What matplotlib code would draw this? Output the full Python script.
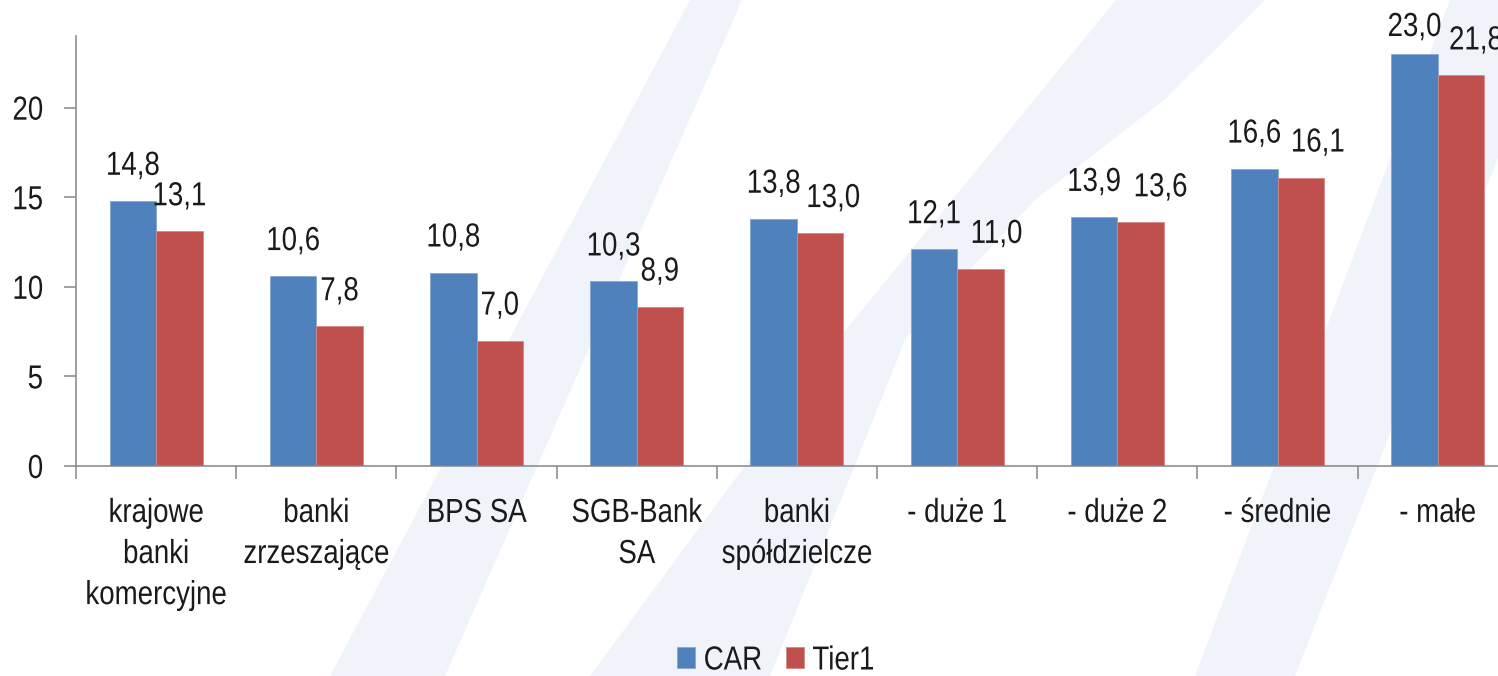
import matplotlib
matplotlib.use("Agg")
import matplotlib.pyplot as plt
from matplotlib import font_manager
from matplotlib.patches import Polygon
from matplotlib.patheffects import AbstractPathEffect
from matplotlib.transforms import Affine2D
import numpy as np

categories = ["krajowe\nbanki\nkomercyjne", "banki\nzrzeszające", "BPS SA", "SGB-Bank\nSA",
              "banki\nspółdzielcze", "- duże 1", "- duże 2", "- średnie", "- małe"]
car = [14.8, 10.6, 10.8, 10.3, 13.8, 12.1, 13.9, 16.6, 23.0]
tier1 = [13.1, 7.8, 7.0, 8.9, 13.0, 11.0, 13.6, 16.1, 21.8]
series_names = ["CAR", "Tier1"]
yticks = [0, 5, 10, 15, 20]

# horizontal nudges (pixels) of the Tier1 value labels, as placed in the original
tier1_label_nudge = [0, 0, 0, 0, 13, 16, 20, 17, 15]

names = {f.name for f in font_manager.fontManager.ttflist}
chain = ["Liberation Sans", "Arimo", "DejaVu Sans"]
fam = [n for n in chain if n in names] or ["DejaVu Sans"]
plt.rcParams['font.family'] = fam

BLUE = "#4F81BD"
RED = "#C0504D"
WM = "#F0F3F9"
TXT = "#1a1a1a"
FS = 24
SX = 0.83


class Narrow(AbstractPathEffect):
    """Condense glyphs horizontally (the reference uses a narrow face)."""
    def __init__(self, sx=SX, anchor="center"):
        super().__init__()
        self.sx = sx
        self.anchor = anchor

    def draw_path(self, renderer, gc, tpath, affine, rgbFace=None):
        ext = tpath.get_extents()
        if self.anchor == "right":
            cx = ext.x1
        elif self.anchor == "left":
            cx = ext.x0
        else:
            cx = (ext.x0 + ext.x1) / 2
        t = Affine2D().translate(-cx, 0).scale(self.sx, 1).translate(cx, 0) + affine
        renderer.draw_path(gc, tpath, t, rgbFace)


W, H = 1498, 676
fig = plt.figure(figsize=(W / 100, H / 100), dpi=100)

def px(pts):
    return [(x / W, 1 - y / H) for x, y in pts]

# faint watermark strokes in the background
for pts in [
    [(330, 676), (445, 676), (742, 0), (690, 0)],
    [(590, 676), (770, 676), (906, 338), (1035, 200), (1164, 100), (1265, 0), (1116, 0), (839, 338)],
    [(1195, 676), (1295, 676), (1560, 0), (1450, 0)],
]:
    fig.patches.append(Polygon(px(pts), closed=True, transform=fig.transFigure,
                               facecolor=WM, edgecolor="none", zorder=-5))

left, right, top, bottom = 76, 76 + 9 * 160.2, 36, 466
ax = fig.add_axes([left / W, 1 - bottom / H, (right - left) / W, (bottom - top) / H])
ax.set_zorder(2)
ax.patch.set_alpha(0)

n = len(categories)
x = np.arange(n) + 0.5
w = 0.29
ax.set_xlim(0, n)
ax.set_ylim(0, 24)
b1 = ax.bar(x - w / 2, car, w, color=BLUE, edgecolor="#86A8D4", linewidth=0.6,
            label=series_names[0], zorder=2)
b2 = ax.bar(x + w / 2, tier1, w, color=RED, edgecolor="#D48A88", linewidth=0.6,
            label=series_names[1], zorder=2)

# value labels: ~19 px above the bar, but kept inside the chart top
for bars, vals, nudges in [(b1, car, [0] * n), (b2, tier1, tier1_label_nudge)]:
    for rect, v, dx in zip(bars, vals, nudges):
        cx = rect.get_x() + rect.get_width() / 2
        bar_top_from_top = H - ax.transData.transform((cx, v))[1]
        off_px = min(19.0, bar_top_from_top - 12 - 31)
        ax.annotate(f"{v:.1f}".replace(".", ","), (cx, v),
                    xytext=(dx * 0.72, off_px * 0.72), textcoords="offset points",
                    ha="center", va="bottom", fontsize=FS, color=TXT,
                    annotation_clip=False, path_effects=[Narrow()])

ax.set_yticks(yticks)
ax.set_yticklabels([str(t) for t in yticks])
ax.set_xticks(np.arange(n + 1))
ax.set_xticklabels([])
ax.set_xticks(x, minor=True)
ax.set_xticklabels(categories, minor=True, fontsize=FS, linespacing=1.42)
ax.tick_params(axis="x", which="major", direction="out", length=9, width=1.1, color="#868686")
ax.tick_params(axis="x", which="minor", length=0, pad=23, labelcolor=TXT)
ax.tick_params(axis="y", direction="out", length=8.5, width=1.1, color="#868686",
               pad=15, labelsize=FS, labelcolor=TXT)
for lab in ax.get_xticklabels(minor=True):
    lab.set_path_effects([Narrow()])
for lab in ax.get_yticklabels():
    lab.set_path_effects([Narrow(anchor="right")])
for s in ["top", "right"]:
    ax.spines[s].set_visible(False)
for s in ["left", "bottom"]:
    ax.spines[s].set_color("#868686")
    ax.spines[s].set_linewidth(1.1)

leg = fig.legend(loc="center", bbox_to_anchor=(782 / W, 1 - 661 / H), ncol=2, frameon=False,
                 fontsize=FS, handlelength=0.54, handleheight=0.6, handletextpad=0.25,
                 columnspacing=0.36, labelcolor=TXT)
for t in leg.get_texts():
    t.set_path_effects([Narrow(anchor="left")])

fig.savefig("out.png", dpi=100)
